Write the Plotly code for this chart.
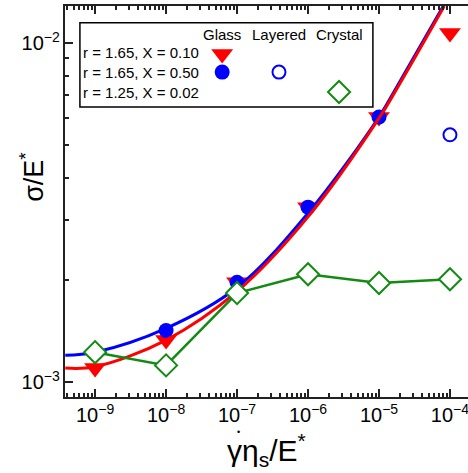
import plotly.graph_objects as go

# ---- data ----
rate = [1e-9, 1e-8, 1e-7, 1e-6, 1e-5, 1e-4]
glass_r165_x010 = [1.10e-3, 1.33e-3, 1.97e-3, 3.28e-3, 6.05e-3, 1.07e-2]
glass_r165_x050 = [1.225e-3, 1.42e-3, 1.97e-3, 3.28e-3, 6.05e-3]
layered_rate = [1e-4]
layered_r165_x050 = [5.36e-3]
crystal_r125_x002 = [1.225e-3, 1.12e-3, 1.83e-3, 2.08e-3, 1.96e-3, 2.01e-3]

# fit curves
fit_rate = [10**-9.42, 1e-9, 1e-8, 1e-7, 1e-6, 1e-5, 10**-4.76, 10**-4.08]
fit_red = [1.10e-3, 1.11e-3, 1.33e-3, 1.85e-3, 3.07e-3, 6.0e-3, 7.26e-3, 1.285e-2]
fit_blue = [1.20e-3, 1.225e-3, 1.44e-3, 1.90e-3, 3.15e-3, 6.05e-3, 7.35e-3, 1.30e-2]

col_names = ["Glass", "Layered", "Crystal"]
row_names = ["r = 1.65, X = 0.10", "r = 1.65, X = 0.50", "r = 1.25, X = 0.02"]

RED = "#ff0000"
BLUE = "#0000ff"
GREEN = "#138a13"
FONT = "Liberation Sans, Arial, sans-serif"

fig = go.Figure()

fig.add_trace(go.Scatter(x=rate, y=glass_r165_x010, mode="markers",
                         marker=dict(symbol="triangle-down", size=19, color=RED, line=dict(width=0)),
                         showlegend=False))
fig.add_trace(go.Scatter(x=rate[:5], y=glass_r165_x050, mode="markers",
                         marker=dict(symbol="circle", size=15, color=BLUE, line=dict(width=0)),
                         showlegend=False))
fig.add_trace(go.Scatter(x=fit_rate, y=fit_blue, mode="lines", line=dict(color=BLUE, width=3, shape="spline"),
                         showlegend=False))
fig.add_trace(go.Scatter(x=fit_rate, y=fit_red, mode="lines", line=dict(color=RED, width=3, shape="spline"),
                         showlegend=False))
fig.add_trace(go.Scatter(x=layered_rate, y=layered_r165_x050, mode="markers",
                         marker=dict(symbol="circle-open", size=13, color=BLUE, line=dict(width=2, color=BLUE)),
                         showlegend=False))
fig.add_trace(go.Scatter(x=rate, y=crystal_r125_x002, mode="lines+markers",
                         line=dict(color=GREEN, width=2.5),
                         marker=dict(symbol="diamond", size=17, color="white", line=dict(width=2, color=GREEN)),
                         showlegend=False))

# legend markers on an overlay axis (0..1)
fig.add_trace(go.Scatter(x=[0.390], y=[0.877], xaxis="x2", yaxis="y2", mode="markers",
                         marker=dict(symbol="triangle-down", size=19, color=RED), showlegend=False))
fig.add_trace(go.Scatter(x=[0.390], y=[0.831], xaxis="x2", yaxis="y2", mode="markers",
                         marker=dict(symbol="circle", size=15, color=BLUE), showlegend=False))
fig.add_trace(go.Scatter(x=[0.531], y=[0.831], xaxis="x2", yaxis="y2", mode="markers",
                         marker=dict(symbol="circle-open", size=13, color=BLUE, line=dict(width=2, color=BLUE)),
                         showlegend=False))
fig.add_trace(go.Scatter(x=[0.680], y=[0.780], xaxis="x2", yaxis="y2", mode="markers",
                         marker=dict(symbol="diamond", size=17, color="white", line=dict(width=2, color=GREEN)),
                         showlegend=False))

annotations = []
for name, xp in zip(col_names, [0.390, 0.531, 0.680]):
    annotations.append(dict(text=name, x=xp, y=0.926, xref="paper", yref="paper", showarrow=False,
                            xanchor="center", yanchor="middle", font=dict(size=15, color="black", family=FONT)))
for name, yp in zip(row_names, [0.880, 0.831, 0.780]):
    annotations.append(dict(text=name, x=0.040, y=yp, xref="paper", yref="paper", showarrow=False,
                            xanchor="left", yanchor="middle", font=dict(size=15, color="black", family=FONT)))

# axis titles
annotations.append(dict(text="γη<sub>s</sub>/E<sup>*</sup>", x=0.501, y=-0.135, xref="paper", yref="paper",
                        showarrow=False, xanchor="center", yanchor="middle",
                        font=dict(size=30, color="black", family=FONT)))
annotations.append(dict(text="•", x=0.431, y=-0.090, xref="paper", yref="paper",
                        showarrow=False, xanchor="center", yanchor="middle",
                        font=dict(size=9, color="black", family=FONT)))
annotations.append(dict(text="σ/E<sup>*</sup>", x=-0.082, y=0.563, xref="paper", yref="paper",
                        showarrow=False, xanchor="center", yanchor="middle", textangle=-90,
                        font=dict(size=27, color="black", family=FONT)))

axis_common = dict(type="log", dtick=1, exponentformat="power", automargin=False,
                   ticklabeloverflow="allow",
                   showgrid=False, zeroline=False, showline=True, linecolor="#222", linewidth=2,
                   ticks="inside", ticklen=8, tickwidth=2, tickcolor="#222",
                   minor=dict(ticks="inside", ticklen=4, tickwidth=1.5, tickcolor="#222", showgrid=False),
                   tickfont=dict(size=16, family=FONT))

fig.update_layout(
    width=468, height=473,
    margin=dict(l=65, r=0, t=6, b=76),
    paper_bgcolor="white", plot_bgcolor="white",
    font=dict(family=FONT, color="black"),
    annotations=annotations,
    shapes=[dict(type="rect", xref="paper", yref="paper", x0=0.037, x1=0.764, y0=0.742, y1=0.957,
                 line=dict(color="black", width=1.5), layer="above")],
    xaxis=dict(range=[-9.424, -3.746], mirror="allticks", **axis_common),
    yaxis=dict(range=[-3.044, -1.891], mirror=False, **axis_common),
    xaxis2=dict(overlaying="x", range=[0, 1], visible=False, anchor="y2"),
    yaxis2=dict(overlaying="y", range=[0, 1], visible=False, anchor="x2"),
)

fig.write_html("out.html", config={"displayModeBar": False},
               post_script="document.body.style.margin='0';document.body.style.overflow='hidden';")
